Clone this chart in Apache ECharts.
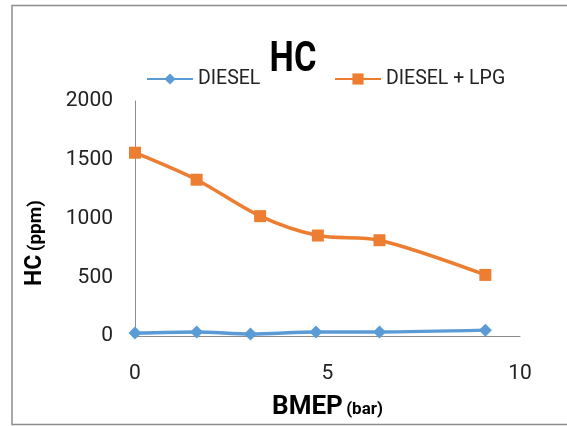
<!DOCTYPE html>
<html lang="en">
<head>
  <meta charset="UTF-8">
  <title>HC</title>
  <script src="https://cdn.jsdelivr.net/npm/echarts@6/dist/echarts.min.js"></script>
  <style>
    html, body { margin: 0; padding: 0; background: #fff; }
    #chart { width: 567px; height: 426px; }
  </style>
</head>
<body>

<div id="chart"></div>

<script>
  // 读取自图片的数据
  var bmepDiesel = [0, 1.6, 3.0, 4.7, 6.35, 9.1];
  var hcDiesel = [25, 35, 18, 35, 35, 50];
  var bmepLpg = [0, 1.6, 3.25, 4.75, 6.35, 9.1];
  var hcLpg = [1560, 1330, 1020, 855, 815, 520];
  var xTicks = [0, 5, 10];
  var yTicks = [0, 500, 1000, 1500, 2000];

  var font = 'Roboto, "Liberation Sans", sans-serif';

  function pairs(xs, ys) {
    return xs.map(function (x, i) { return [x, ys[i]]; });
  }

  var myChart = echarts.init(document.getElementById('chart'));

  var option = {
    backgroundColor: '#fff',
    animation: false,
    legend: [
      {
        data: ['DIESEL'],
        left: 146,
        top: 69,
        padding: 0,
        itemWidth: 46,
        itemHeight: 14,
        textStyle: { fontFamily: font, fontSize: 19.5, color: '#222' }
      },
      {
        data: ['DIESEL + LPG'],
        left: 334,
        top: 69,
        padding: 0,
        itemWidth: 46,
        itemHeight: 14,
        textStyle: { fontFamily: font, fontSize: 19.5, color: '#222' }
      }
    ],
    grid: { left: 135, right: 47, top: 101, bottom: 90, containLabel: false, outerBoundsMode: 'none' },
    xAxis: {
      type: 'value',
      min: xTicks[0],
      max: xTicks[xTicks.length - 1],
      interval: 5,
      name: '{a|BMEP} {b|(bar)}',
      nameLocation: 'middle',
      nameGap: 58,
      nameTextStyle: {
        rich: {
          a: { fontFamily: font, fontWeight: 'bold', fontSize: 26, color: '#000' },
          b: { fontFamily: font, fontWeight: 'bold', fontSize: 17, color: '#000', padding: [5, 0, 0, 0] }
        }
      },
      axisLine: { lineStyle: { color: '#8c8c8c', width: 1 } },
      axisTick: { show: false },
      splitLine: { show: false },
      axisLabel: { fontFamily: font, fontSize: 21, color: '#222', margin: 27 }
    },
    yAxis: {
      type: 'value',
      min: yTicks[0],
      max: yTicks[yTicks.length - 1],
      interval: 500,
      axisLine: { show: true, lineStyle: { color: '#8c8c8c', width: 1 } },
      axisTick: { show: false },
      splitLine: { show: false },
      axisLabel: {
        fontFamily: font, fontSize: 21, color: '#222', margin: 22,
        padding: [10, 0, 0, 0],
        formatter: function (v) { return String(v); }
      }
    },
    graphic: [
      {
        type: 'rect',
        shape: { x: 12, y: 5.5, width: 620, height: 419 },
        style: { fill: 'none', stroke: '#8c8c8c', lineWidth: 1.5 },
        silent: true
      },
      {
        // 标题 HC（Calibri 较窄，横向压缩）
        type: 'text',
        x: 293,
        y: 60,
        scaleX: 0.8,
        style: {
          text: 'HC',
          align: 'center',
          verticalAlign: 'middle',
          fontFamily: font,
          fontWeight: 'bold',
          fontSize: 43,
          fill: '#000'
        }
      },
      {
        type: 'text',
        x: 35,
        y: 243,
        rotation: Math.PI / 2,
        style: {
          text: '{a|HC} {b|(ppm)}',
          align: 'center',
          verticalAlign: 'middle',
          rich: {
            a: { fontFamily: font, fontWeight: 'bold', fontSize: 23, fill: '#000' },
            b: { fontFamily: font, fontWeight: 'bold', fontSize: 19, fill: '#000', padding: [3, 0, 0, 0] }
          }
        }
      }
    ],
    series: [
      {
        name: 'DIESEL',
        type: 'line',
        smooth: 0.3,
        data: pairs(bmepDiesel, hcDiesel),
        symbol: 'diamond',
        symbolSize: 13,
        lineStyle: { color: '#5B9BD5', width: 3.5 },
        itemStyle: { color: '#5B9BD5' }
      },
      {
        name: 'DIESEL + LPG',
        type: 'line',
        smooth: 0.3,
        data: pairs(bmepLpg, hcLpg),
        symbol: 'rect',
        symbolSize: 12,
        lineStyle: { color: '#ED7D31', width: 3.5 },
        itemStyle: { color: '#ED7D31' }
      }
    ]
  };

  myChart.setOption(option);
</script>

</body>
</html>
